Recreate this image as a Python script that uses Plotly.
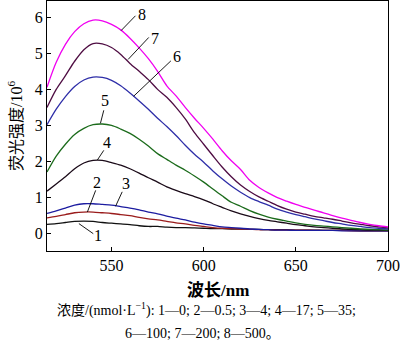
import plotly.graph_objects as go

# Emission wavelength grid (nm)
wavelength = list(range(515, 701, 5))

# Fluorescence intensity (x10^6) for each concentration
c1 = [0.26, 0.28, 0.31, 0.34, 0.35, 0.34, 0.31, 0.29, 0.27, 0.25, 0.22, 0.20, 0.20, 0.18,
      0.17, 0.17, 0.16, 0.15, 0.14, 0.14, 0.13, 0.13, 0.12, 0.12, 0.11, 0.11, 0.11, 0.10,
      0.10, 0.10, 0.09, 0.09, 0.09, 0.09, 0.08, 0.08, 0.08, 0.08]
c2 = [0.44, 0.48, 0.53, 0.58, 0.60, 0.60, 0.58, 0.56, 0.53, 0.50, 0.45, 0.41, 0.38, 0.34,
      0.30, 0.27, 0.23, 0.20, 0.17, 0.15, 0.14, 0.13, 0.12, 0.11, 0.11, 0.10, 0.10, 0.10,
      0.10, 0.09, 0.09, 0.09, 0.09, 0.08, 0.08, 0.08, 0.08, 0.08]
c3 = [0.56, 0.63, 0.71, 0.79, 0.83, 0.83, 0.81, 0.79, 0.75, 0.71, 0.66, 0.60, 0.55, 0.49,
      0.43, 0.38, 0.32, 0.27, 0.23, 0.19, 0.17, 0.15, 0.13, 0.12, 0.11, 0.10, 0.10, 0.09,
      0.09, 0.09, 0.09, 0.09, 0.08, 0.08, 0.08, 0.08, 0.08, 0.08]
c4 = [1.18, 1.38, 1.58, 1.80, 1.96, 2.03, 2.03, 1.97, 1.90, 1.80, 1.68, 1.55, 1.43, 1.30,
      1.20, 1.11, 1.03, 0.94, 0.83, 0.73, 0.63, 0.55, 0.48, 0.42, 0.37, 0.33, 0.29, 0.25,
      0.22, 0.19, 0.17, 0.15, 0.13, 0.12, 0.11, 0.10, 0.10, 0.09]
c5 = [1.71, 2.15, 2.48, 2.75, 2.92, 3.02, 3.04, 3.00, 2.90, 2.78, 2.62, 2.43, 2.22, 2.06,
      1.90, 1.76, 1.60, 1.43, 1.24, 1.05, 0.87, 0.76, 0.64, 0.54, 0.46, 0.40, 0.35, 0.30,
      0.26, 0.23, 0.21, 0.19, 0.17, 0.15, 0.13, 0.12, 0.11, 0.10]
c6 = [3.02, 3.45, 3.80, 4.08, 4.26, 4.34, 4.33, 4.25, 4.10, 3.90, 3.68, 3.45, 3.20, 2.97,
      2.72, 2.45, 2.20, 1.98, 1.74, 1.52, 1.32, 1.15, 1.00, 0.89, 0.79, 0.68, 0.60, 0.53,
      0.47, 0.41, 0.36, 0.31, 0.27, 0.23, 0.20, 0.17, 0.15, 0.13]
c7 = [3.50, 4.00, 4.38, 4.78, 5.10, 5.27, 5.26, 5.16, 4.97, 4.72, 4.50, 4.27, 4.00, 3.78,
      3.50, 3.18, 2.80, 2.48, 2.16, 1.85, 1.58, 1.35, 1.17, 1.02, 0.90, 0.78, 0.68, 0.60,
      0.54, 0.48, 0.44, 0.40, 0.35, 0.30, 0.26, 0.22, 0.19, 0.16]
c8 = [4.06, 4.75, 5.25, 5.60, 5.82, 5.92, 5.90, 5.80, 5.65, 5.42, 5.15, 4.85, 4.50, 4.10,
      3.82, 3.50, 3.20, 2.92, 2.62, 2.30, 2.02, 1.78, 1.48, 1.28, 1.13, 1.00, 0.90, 0.81,
      0.73, 0.65, 0.58, 0.50, 0.43, 0.37, 0.31, 0.26, 0.22, 0.19]

series = [c1, c2, c3, c4, c5, c6, c7, c8]
colors = ["#111111", "#9A1C1C", "#1C1CA0", "#1A0A18", "#1B6B1B", "#2E2EA8", "#4E0C42", "#F000F0"]

x_ticks = [550, 600, 650, 700]
y_ticks = [0, 1, 2, 3, 4, 5, 6]

# Curve labels: (text, leader start, leader end, label position) in data units
labels = [
    ("1", (532.3, 0.28), (540.1, 0.00), (542.6, -0.05)),
    ("2", (536.9, 0.60), (541.4, 1.20), (542.3, 1.43)),
    ("3", (552.2, 0.76), (555.8, 1.16), (557.6, 1.39)),
    ("4", (542.3, 2.04), (545.8, 2.31), (547.3, 2.52)),
    ("5", (544.0, 3.06), (545.8, 3.42), (546.2, 3.70)),
    ("6", (562.0, 3.81), (582.2, 4.79), (585.5, 4.91)),
    ("7", (559.0, 4.83), (570.2, 5.44), (573.8, 5.42)),
    ("8", (555.2, 5.63), (563.0, 6.04), (566.8, 6.07)),
]

SERIF = "Liberation Serif, Times New Roman, Noto Sans CJK SC, serif"

fig = go.Figure()
for vals, col in zip(series, colors):
    fig.add_trace(go.Scatter(
        x=wavelength, y=vals, mode="lines",
        line=dict(color=col, width=1.3, shape="spline", smoothing=0.8),
        showlegend=False, hoverinfo="skip",
    ))

for text, p0, p1, pt in labels:
    fig.add_shape(type="line", xref="x", yref="y",
                  x0=p0[0], y0=p0[1], x1=p1[0], y1=p1[1],
                  line=dict(color="black", width=0.9))
    fig.add_annotation(x=pt[0], y=pt[1], xref="x", yref="y", text=text,
                       showarrow=False, font=dict(family=SERIF, size=16, color="black"))

# X-axis title and the concentration key beneath it
fig.add_annotation(
    x=0.5, y=0, xref="paper", yref="paper", yanchor="middle", yshift=-39,
    text="<b>波长/nm</b>",
    showarrow=False, font=dict(family=SERIF, size=17, color="black"),
)
fig.add_annotation(
    x=0.469, y=0, xref="paper", yref="paper", yanchor="middle", yshift=-58,
    text="浓度/(nmol·L<sup>−1</sup>): 1—0; 2—0.5; 3—4; 4—17; 5—35;",
    showarrow=False, font=dict(family=SERIF, size=14, color="black"),
)
fig.add_annotation(
    x=0.457, y=0, xref="paper", yref="paper", yanchor="middle", yshift=-82,
    text="6—100; 7—200; 8—500。",
    showarrow=False, font=dict(family=SERIF, size=14, color="black"),
)

axis_common = dict(
    showline=True, linecolor="black", linewidth=1, mirror=True,
    ticks="inside", ticklen=4, tickcolor="black", tickwidth=1,
    showgrid=False, zeroline=False,
    tickfont=dict(family=SERIF, size=16, color="black"),
)

fig.update_xaxes(range=[515, 700], tickvals=x_ticks, **axis_common)
fig.update_yaxes(
    range=[-0.48, 6.45], tickvals=y_ticks,
    title=dict(text="荧光强度/10<sup>6</sup>", font=dict(family=SERIF, size=16, color="black"), standoff=8),
    **axis_common,
)

fig.update_layout(
    width=400, height=345,
    margin=dict(l=47, r=12, t=1, b=94),
    plot_bgcolor="white", paper_bgcolor="white",
)

fig.write_html("out.html")
